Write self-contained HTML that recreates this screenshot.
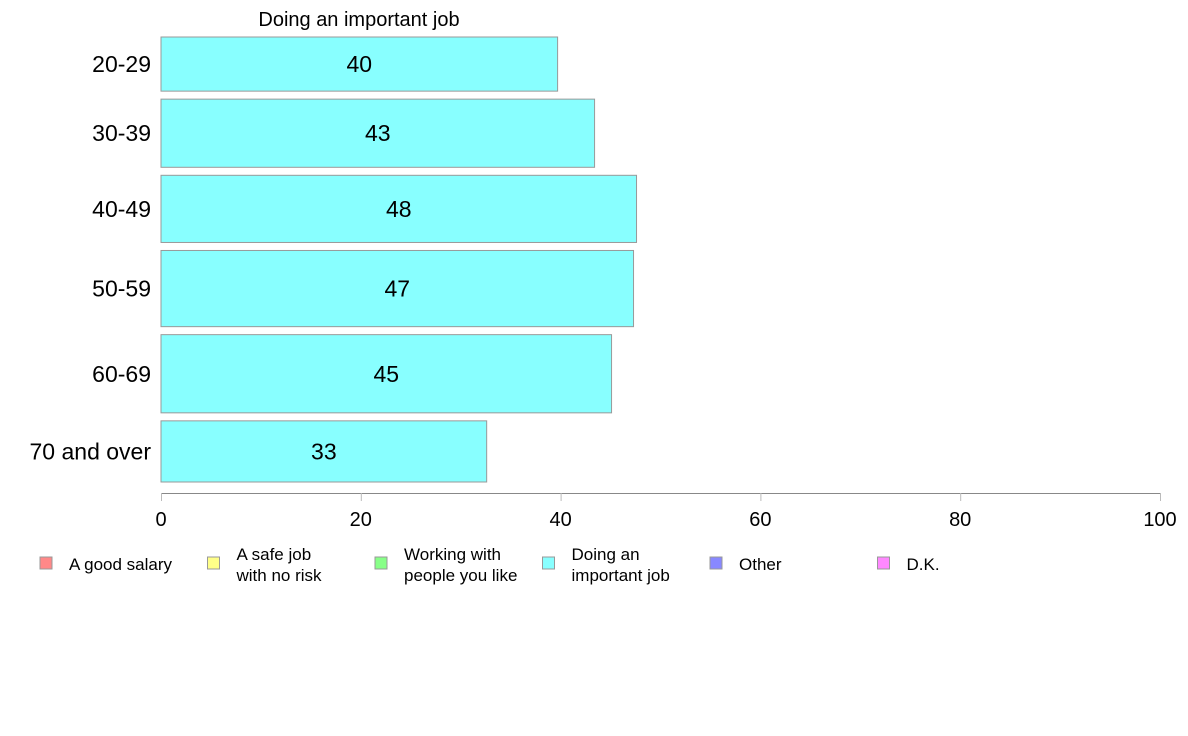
<!DOCTYPE html>
<html><head><meta charset="utf-8"><style>
body{margin:0;background:#fff;}
svg{display:block;font-family:"Liberation Sans",Arial,sans-serif;}
</style></head><body>
<svg id="chart" width="1188" height="736" xmlns="http://www.w3.org/2000/svg">
<text x="359" y="26" font-size="20" text-anchor="middle" fill="#000">Doing an important job</text>
<g id="bars"></g>
<g id="axis"></g>
<g id="legend"></g>
</svg>
<script>
const categories = ["20-29","30-39","40-49","50-59","60-69","70 and over"];
const values = [39.7, 43.4, 47.6, 47.3, 45.1, 32.6];
const groupSizes = [54, 68, 67, 76, 78, 61];
const ticks = [0,20,40,60,80,100];
const legendLabels = [["A good salary"],["A safe job","with no risk"],["Working with","people you like"],["Doing an","important job"],["Other"],["D.K."]];
const legendColors = ["#ff8888","#ffff88","#88ff88","#88ffff","#8888ff","#ff88ff"];

const NS="http://www.w3.org/2000/svg";
const x0=161, x1=1160, yTop=37, yBottom=482, gap=8;
const xs=v=>x0+(v/100)*(x1-x0);
const total=groupSizes.reduce((a,b)=>a+b,0);
const scaleH=(yBottom-yTop-gap*(categories.length-1))/total;
function mk(tag,attrs,parent){const e=document.createElementNS(NS,tag);for(const k in attrs)e.setAttribute(k,attrs[k]);parent.appendChild(e);return e;}
const bars=document.getElementById('bars');
let yy0=yTop;
categories.forEach((c,i)=>{
  const h=groupSizes[i]*scaleH;
  const r=mk('rect',{x:x0,y:yy0,width:xs(values[i])-x0,height:h,fill:'#88ffff',stroke:'#999','stroke-width':1},bars);
  
  
  const t=mk('text',{x:(x0+xs(values[i]))/2,y:yy0+h/2+8,'font-size':23,'text-anchor':'middle',fill:'#000'},bars);
  t.textContent=Math.round(values[i]);
  
  
  const l=mk('text',{x:151,y:yy0+h/2+8,'font-size':23,'text-anchor':'end',fill:'#000'},bars);
  l.textContent=c;
  
  
  yy0+=h+gap;
});
const axis=document.getElementById('axis');
const al=mk('line',{x1:x0,x2:x1,y1:493.5,y2:493.5,stroke:'#888','stroke-width':1},axis);


ticks.forEach(t=>{
  const tl=mk('line',{x1:xs(t)+0.5,x2:xs(t)+0.5,y1:493,y2:501,stroke:'#bbb','stroke-width':1},axis);
  
  
  const tx=mk('text',{x:xs(t),y:526,'font-size':20,'text-anchor':'middle',fill:'#000'},axis);
  tx.textContent=t;
  
  
});
const lg=document.getElementById('legend');
legendLabels.forEach((lab,i)=>{
  const lx=40+i*167.5;
  const g=mk('g',{},lg);
  
  
  mk('rect',{x:lx,y:557,width:12,height:12,fill:legendColors[i],stroke:'#999','stroke-width':1},g);
  lab.forEach((line,j)=>{
    const ly = lab.length===1 ? 570 : 560+j*21;
    const t=mk('text',{x:lx+29,y:ly,'font-size':17,fill:'#000'},g);
    t.textContent=line;
  });
});
</script>
</body></html>
